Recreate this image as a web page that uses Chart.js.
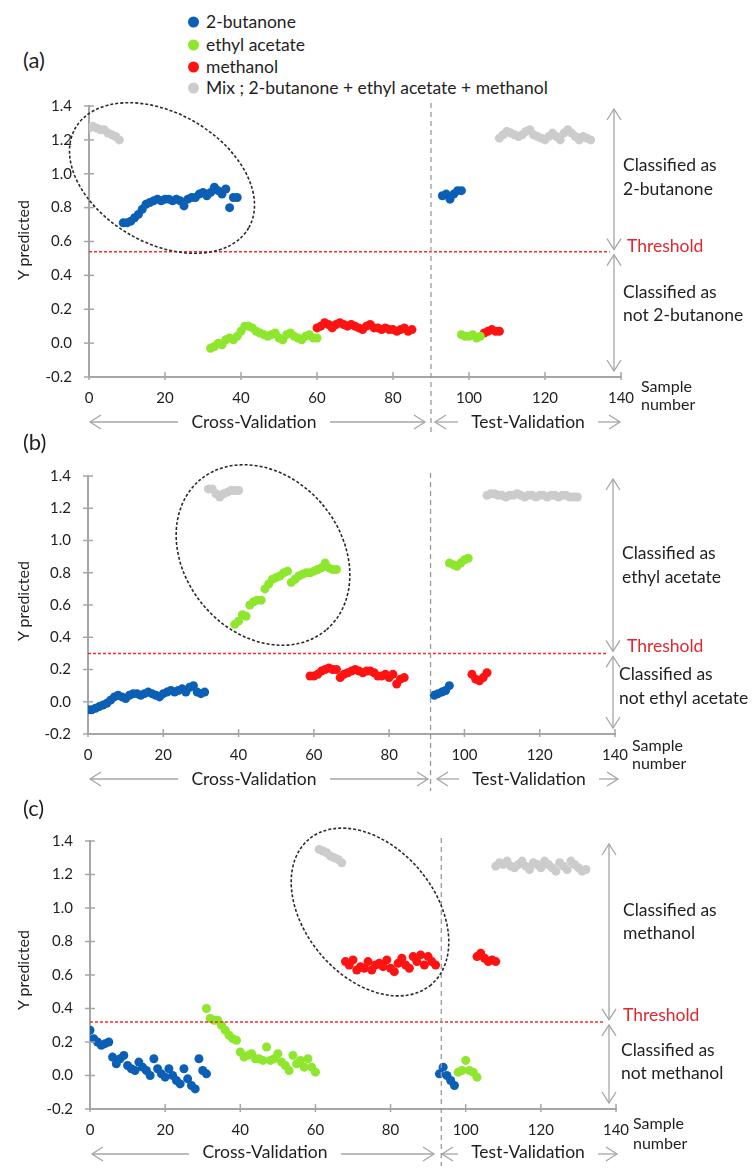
<!DOCTYPE html>
<html>
<head>
<meta charset="utf-8">
<script src="https://cdn.jsdelivr.net/npm/chart.js@4.4.1/dist/chart.umd.min.js"></script>
<style>
  body { margin: 0; width: 754px; height: 1169px; position: relative; overflow: hidden; background: #fff;
         font-family: Lato, "Open Sans", sans-serif; color: #1f1f1f; }
  canvas { position: absolute; left: 0; }
  .t { position: absolute; white-space: nowrap; font-size: 17.5px; line-height: 1; transform: translateY(-50%); z-index: 5; }
  .c { transform: translate(-50%, -50%); }
  .s { font-size: 16px; }
  .red { color: #e3262e; }
  .letter { font-size: 22px; }
  .ylab { position: absolute; left: 22px; font-size: 16px; white-space: nowrap; transform: translate(-50%, -50%) rotate(-90deg); z-index: 5; }
  .leg { position: absolute; left: 206px; font-size: 17.5px; white-space: nowrap; transform: translateY(-50%); line-height: 1; }
  .dot { position: absolute; left: 188px; width: 11px; height: 11px; border-radius: 50%; transform: translateY(-50%); }
</style>
</head>
<body>
<!-- legend -->
<span class="dot" style="top:22px;background:#0b5fb5"></span><span class="leg" style="top:22px">2-butanone</span>
<span class="dot" style="top:45px;background:#8ee62d"></span><span class="leg" style="top:45px">ethyl acetate</span>
<span class="dot" style="top:67px;background:#ff1212"></span><span class="leg" style="top:67px">methanol</span>
<span class="dot" style="top:88px;background:#cccccc"></span><span class="leg" style="top:88px">Mix ; 2-butanone + ethyl acetate + methanol</span>

<canvas id="chartA" width="754" height="370" style="top:80px"></canvas>
<canvas id="chartB" width="754" height="370" style="top:450px"></canvas>
<canvas id="chartC" width="754" height="354" style="top:815px"></canvas>

<!-- panel a text -->
<span class="t letter" style="left:23px;top:60px">(a)</span>
<span class="ylab" style="top:240px">Y predicted</span>
<span class="t" style="left:623px;top:165px">Classified as</span>
<span class="t" style="left:623px;top:189px">2-butanone</span>
<span class="t red" style="left:627px;top:246px">Threshold</span>
<span class="t" style="left:623px;top:292px">Classified as</span>
<span class="t" style="left:623px;top:315px">not 2-butanone</span>
<span class="t s" style="left:641px;top:386px">Sample</span>
<span class="t s" style="left:641px;top:404px">number</span>
<span class="t c" style="left:254px;top:422px">Cross-Validation</span>
<span class="t c" style="left:528px;top:422px">Test-Validation</span>

<!-- panel b text -->
<span class="t letter" style="left:23px;top:442px">(b)</span>
<span class="ylab" style="top:601px">Y predicted</span>
<span class="t" style="left:622px;top:553px">Classified as</span>
<span class="t" style="left:622px;top:577px">ethyl acetate</span>
<span class="t red" style="left:627px;top:646px">Threshold</span>
<span class="t" style="left:619px;top:674px">Classified as</span>
<span class="t" style="left:619px;top:698px">not ethyl acetate</span>
<span class="t s" style="left:632px;top:745px">Sample</span>
<span class="t s" style="left:632px;top:763px">number</span>
<span class="t c" style="left:254px;top:779px">Cross-Validation</span>
<span class="t c" style="left:529px;top:779px">Test-Validation</span>

<!-- panel c text -->
<span class="t letter" style="left:23px;top:808px">(c)</span>
<span class="ylab" style="top:970px">Y predicted</span>
<span class="t" style="left:623px;top:910px">Classified as</span>
<span class="t" style="left:623px;top:933px">methanol</span>
<span class="t red" style="left:623px;top:1015px">Threshold</span>
<span class="t" style="left:621px;top:1050px">Classified as</span>
<span class="t" style="left:621px;top:1073px">not methanol</span>
<span class="t s" style="left:633px;top:1123px">Sample</span>
<span class="t s" style="left:633px;top:1143px">number</span>
<span class="t c" style="left:265px;top:1152px">Cross-Validation</span>
<span class="t c" style="left:528px;top:1152px">Test-Validation</span>

<script>
// (a) model for 2-butanone
const aButanoneX = [9,10,11,12,13,14,15,16,17,18,19,20,21,22,23,24,25,26,27,28,29,30,31,32,33,34,35,36,37,38,39, 93,94,95,96,97,98];
const aButanoneY = [0.71,0.71,0.72,0.74,0.76,0.79,0.82,0.83,0.84,0.85,0.84,0.85,0.85,0.84,0.85,0.84,0.81,0.85,0.86,0.86,0.88,0.89,0.87,0.89,0.92,0.90,0.88,0.91,0.80,0.86,0.86, 0.87,0.88,0.85,0.88,0.90,0.90];
const aEthylX = [32,33,34,35,36,37,38,39,40,41,42,43,44,45,46,47,48,49,50,51,52,53,54,55,56,57,58,59,60, 98,99,100,101,102,103];
const aEthylY = [-0.03,-0.02,0.00,-0.01,0.02,0.03,0.02,0.04,0.07,0.10,0.10,0.09,0.07,0.06,0.05,0.04,0.05,0.06,0.03,0.02,0.05,0.06,0.04,0.03,0.02,0.04,0.05,0.03,0.03, 0.05,0.04,0.04,0.05,0.03,0.04];
const aMethanolX = [60,61,62,63,64,65,66,67,68,69,70,71,72,73,74,75,76,77,78,79,80,81,82,83,84,85, 104,105,106,107,108];
const aMethanolY = [0.09,0.10,0.12,0.11,0.09,0.11,0.12,0.11,0.10,0.11,0.10,0.09,0.08,0.10,0.11,0.09,0.09,0.08,0.09,0.08,0.08,0.07,0.08,0.09,0.07,0.08, 0.06,0.07,0.08,0.07,0.07];
const aMixX = [0,1,2,3,4,5,6,7,8, 108,109,110,111,112,113,114,115,116,117,118,119,120,121,122,123,124,125,126,127,128,129,130,131,132];
const aMixY = [1.27,1.28,1.27,1.26,1.26,1.24,1.23,1.22,1.20, 1.21,1.23,1.25,1.24,1.23,1.22,1.23,1.25,1.26,1.23,1.22,1.21,1.20,1.22,1.24,1.22,1.20,1.24,1.26,1.24,1.22,1.20,1.22,1.21,1.20];

// (b) model for ethyl acetate
const bButanoneX = [0,1,2,3,4,5,6,7,8,9,10,11,12,13,14,15,16,17,18,19,20,21,22,23,24,25,26,27,28,29,30,31, 92,93,94,95,96];
const bButanoneY = [-0.05,-0.05,-0.04,-0.03,-0.02,-0.01,0.01,0.03,0.04,0.03,0.02,0.04,0.05,0.05,0.04,0.05,0.06,0.05,0.04,0.03,0.05,0.06,0.07,0.06,0.07,0.08,0.06,0.09,0.10,0.06,0.05,0.06, 0.04,0.05,0.06,0.07,0.10];
const bEthylX = [39,40,41,42,43,44,45,46,47,48,49,50,51,52,53,54,55,56,57,58,59,60,61,62,63,64,65,66, 96,97,98,99,100,101];
const bEthylY = [0.48,0.50,0.54,0.53,0.60,0.62,0.63,0.63,0.70,0.73,0.76,0.77,0.78,0.80,0.81,0.74,0.76,0.78,0.79,0.80,0.80,0.81,0.82,0.83,0.86,0.83,0.82,0.82, 0.86,0.85,0.84,0.86,0.88,0.89];
const bMethanolX = [59,60,61,62,63,64,65,66,67,68,69,70,71,72,73,74,75,76,77,78,79,80,81,82,83,84, 102,103,104,105,106];
const bMethanolY = [0.16,0.16,0.17,0.19,0.20,0.21,0.20,0.20,0.15,0.17,0.18,0.19,0.20,0.19,0.18,0.19,0.19,0.18,0.16,0.16,0.17,0.15,0.17,0.11,0.14,0.15, 0.17,0.14,0.13,0.15,0.18];
const bMixX = [32,33,34,35,36,37,38,39,40, 106,107,108,109,110,111,112,113,114,115,116,117,118,119,120,121,122,123,124,125,126,127,128,129,130];
const bMixY = [1.32,1.32,1.29,1.27,1.29,1.30,1.31,1.31,1.31, 1.28,1.29,1.29,1.28,1.28,1.27,1.28,1.28,1.29,1.28,1.27,1.28,1.28,1.27,1.28,1.28,1.27,1.28,1.28,1.27,1.28,1.28,1.27,1.27,1.27];

// (c) model for methanol
const cButanoneX = [0,1,2,3,4,5,6,7,8,9,10,11,12,13,14,15,16,17,18,19,20,21,22,23,24,25,26,27,28,29,30,31, 93,94,95,96,97];
const cButanoneY = [0.27,0.22,0.20,0.18,0.19,0.20,0.11,0.07,0.10,0.12,0.06,0.04,0.03,0.08,0.05,0.03,0.00,0.10,0.04,0.01,-0.01,0.04,0.00,-0.03,-0.05,0.04,-0.02,-0.06,-0.08,0.10,0.03,0.01, 0.01,0.05,0.00,-0.03,-0.06];
const cEthylX = [31,32,33,34,35,36,37,38,39,40,41,42,43,44,45,46,47,48,49,50,51,52,53,54,55,56,57,58,59,60, 98,99,100,101,102,103];
const cEthylY = [0.40,0.34,0.33,0.33,0.30,0.27,0.24,0.22,0.21,0.14,0.11,0.12,0.13,0.10,0.10,0.09,0.17,0.09,0.10,0.13,0.08,0.06,0.03,0.12,0.07,0.09,0.05,0.10,0.05,0.02, 0.02,0.03,0.09,0.03,0.02,-0.01];
const cMethanolX = [68,69,70,71,72,73,74,75,76,77,78,79,80,81,82,83,84,85,86,87,88,89,90,91,92, 103,104,105,106,107,108];
const cMethanolY = [0.68,0.66,0.69,0.63,0.65,0.64,0.68,0.63,0.66,0.67,0.65,0.69,0.64,0.62,0.67,0.70,0.66,0.64,0.71,0.68,0.72,0.66,0.71,0.68,0.66, 0.71,0.73,0.70,0.68,0.69,0.68];
const cMixX = [61,62,63,64,65,66,67, 108,109,110,111,112,113,114,115,116,117,118,119,120,121,122,123,124,125,126,127,128,129,130,131,132];
const cMixY = [1.35,1.34,1.33,1.31,1.30,1.29,1.27, 1.25,1.27,1.26,1.28,1.25,1.24,1.26,1.28,1.25,1.23,1.27,1.26,1.24,1.28,1.26,1.24,1.22,1.27,1.25,1.23,1.28,1.26,1.24,1.22,1.23];

// classification thresholds (a, b, c) and sample numbers where test validation starts
const thresholds = [0.54, 0.30, 0.32];
const splitAt = [90, 91, 93.5];

const COLORS = { butanone: '#0b5fb5', ethyl: '#8ee62d', methanol: '#ff1212', mix: '#cccccc' };
const AXIS = '#a6a6a6';
const TICK_FONT = { family: 'Lato', size: 15 };

function pts(xs, ys) {
  return xs.map((x, i) => ({ x: x, y: ys[i] }));
}

function line(ctx, x1, y1, x2, y2) {
  ctx.beginPath(); ctx.moveTo(x1, y1); ctx.lineTo(x2, y2); ctx.stroke();
}

// open chevron head at (x, y) pointing in direction (dx, dy)
function head(ctx, x, y, dx, dy) {
  const L = 11, W = 7;
  const bx = x - dx * L, by = y - dy * L;
  ctx.beginPath();
  ctx.moveTo(bx - dy * W, by + dx * W);
  ctx.lineTo(x, y);
  ctx.lineTo(bx + dy * W, by - dx * W);
  ctx.stroke();
}

function vArrow(ctx, x, y1, y2) {
  line(ctx, x, y1, x, y2);
  head(ctx, x, y1, 0, -1);
  head(ctx, x, y2, 0, 1);
}

// annotation layer: axis ticks, split line, ellipse, arrows
const decor = {
  id: 'decor',
  afterDatasetsDraw(chart, args, o) {
    const ctx = chart.ctx, ca = chart.chartArea;
    const xs = chart.scales.x, ys = chart.scales.y;
    ctx.save();
    ctx.strokeStyle = AXIS;
    ctx.lineWidth = 1.5;
    ys.ticks.forEach(t => { const py = ys.getPixelForValue(t.value); line(ctx, ca.left - 5, py, ca.left + 5, py); });
    xs.ticks.forEach(t => { const px = xs.getPixelForValue(t.value); line(ctx, px, ca.bottom - 5, px, ca.bottom + 3); });

    // vertical arrows to the right of the plot
    const thrPx = ys.getPixelForValue(o.thr);
    ctx.lineWidth = 1.3;
    vArrow(ctx, o.arrowX, ca.top + 3, thrPx - 2);
    vArrow(ctx, o.arrowX, thrPx + 3, ca.bottom - 6);

    // Cross-Validation / Test-Validation arrows
    const hy = ca.bottom + 45;
    [o.cross, o.test].forEach(s => {
      line(ctx, s[0], hy, s[1], hy);
      line(ctx, s[2], hy, s[3], hy);
      head(ctx, s[0], hy, -1, 0);
      head(ctx, s[3], hy, 1, 0);
    });

    // split between cross and test validation
    ctx.setLineDash([5, 4]);
    ctx.strokeStyle = '#9a9a9a';
    ctx.lineWidth = 1.3;
    const sx = xs.getPixelForValue(o.split);
    line(ctx, sx, ca.top - 3, sx, ca.bottom + 57);

    // dashed ellipse round the selected group
    ctx.setLineDash([3, 2]);
    ctx.strokeStyle = '#2a2a2a';
    ctx.lineWidth = 1.6;
    const e = o.ellipse;
    ctx.beginPath();
    ctx.ellipse(e.cx, e.cy - o.top, e.rx, e.ry, e.rot * Math.PI / 180, 0, Math.PI * 2);
    ctx.stroke();
    ctx.restore();
  }
};

function makePanel(id, d, cfg) {
  const ctx = document.getElementById(id).getContext('2d');
  const ds = (label, data, color) => ({
    label: label, data: data, backgroundColor: color, borderWidth: 0, pointRadius: 4.5, pointHoverRadius: 4.5
  });
  return new Chart(ctx, {
    type: 'scatter',
    data: {
      datasets: [
        {
          type: 'line', label: 'Threshold', data: [{ x: 0, y: cfg.thr }, { x: cfg.thrEnd, y: cfg.thr }],
          borderColor: '#ff2a2a', borderWidth: 1.5, borderDash: [3, 2], pointRadius: 0, fill: false
        },
        ds('Mix ; 2-butanone + ethyl acetate + methanol', d.mix, COLORS.mix),
        ds('2-butanone', d.butanone, COLORS.butanone),
        ds('ethyl acetate', d.ethyl, COLORS.ethyl),
        ds('methanol', d.methanol, COLORS.methanol)
      ]
    },
    options: {
      responsive: false,
      animation: false,
      events: [],
      layout: {
        autoPadding: false,
        padding: { left: cfg.area.left - 60, right: 754 - cfg.area.right, top: cfg.area.top - cfg.top, bottom: cfg.top + cfg.height - cfg.area.bottom - 30 }
      },
      plugins: {
        legend: { display: false },
        tooltip: { enabled: false },
        decor: cfg
      },
      scales: {
        x: {
          type: 'linear', min: 0, max: 140,
          ticks: { stepSize: 20, padding: 12, color: '#1f1f1f', font: TICK_FONT },
          grid: { display: false, drawTicks: false },
          border: { display: true, color: AXIS, width: 2 },
          afterFit: s => { s.height = 30; }
        },
        y: {
          min: -0.2, max: 1.4,
          ticks: { stepSize: 0.2, padding: 17, color: '#1f1f1f', font: TICK_FONT,
                   callback: v => (Math.abs(v) < 1e-9 ? 0 : Number(v)).toFixed(1) },
          grid: { display: false, drawTicks: false },
          border: { display: true, color: AXIS, width: 2 },
          afterFit: s => { s.width = 60; }
        }
      }
    },
    plugins: [decor]
  });
}

makePanel('chartA', {
  butanone: pts(aButanoneX, aButanoneY), ethyl: pts(aEthylX, aEthylY),
  methanol: pts(aMethanolX, aMethanolY), mix: pts(aMixX, aMixY)
}, {
  top: 80, height: 370, area: { left: 89, right: 621, top: 103, bottom: 377 },
  thr: thresholds[0], thrEnd: 137, split: splitAt[0], arrowX: 614,
  cross: [90, 178, 330, 425], test: [435, 458, 598, 620],
  ellipse: { cx: 162, cy: 178, rx: 100, ry: 65, rot: 30 }
});

makePanel('chartB', {
  butanone: pts(bButanoneX, bButanoneY), ethyl: pts(bEthylX, bEthylY),
  methanol: pts(bMethanolX, bMethanolY), mix: pts(bMixX, bMixY)
}, {
  top: 450, height: 370, area: { left: 88, right: 615, top: 469, bottom: 734 },
  thr: thresholds[1], thrEnd: 138, split: splitAt[1], arrowX: 613,
  cross: [90, 178, 330, 428], test: [437, 459, 599, 618],
  ellipse: { cx: 263, cy: 555, rx: 98, ry: 78, rot: 50 }
});

makePanel('chartC', {
  butanone: pts(cButanoneX, cButanoneY), ethyl: pts(cEthylX, cEthylY),
  methanol: pts(cMethanolX, cMethanolY), mix: pts(cMixX, cMixY)
}, {
  top: 815, height: 354, area: { left: 90, right: 616, top: 832, bottom: 1109 },
  thr: thresholds[2], thrEnd: 137, split: splitAt[2], arrowX: 609,
  cross: [92, 189, 341, 434], test: [442, 458, 598, 617],
  ellipse: { cx: 370, cy: 912, rx: 95, ry: 65, rot: 50 }
});
</script>
</body>
</html>
